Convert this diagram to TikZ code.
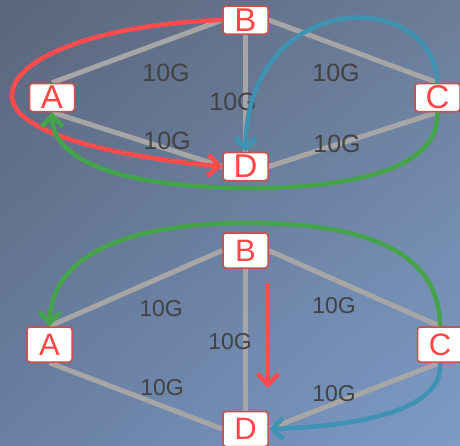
\documentclass[tikz,border=0pt]{standalone}
\usepackage{fontspec}
\setmainfont{Liberation Sans}
\usetikzlibrary{arrows.meta,shadings}
\definecolor{bgUL}{HTML}{5A667C}
\definecolor{bgUR}{HTML}{6C7D98}
\definecolor{bgLL}{HTML}{6A7FA2}
\definecolor{bgLR}{HTML}{7C9CC8}
\definecolor{linkgray}{HTML}{A6A6A6}
\definecolor{nodered}{HTML}{FF4545}
\definecolor{borderred}{HTML}{C9514F}
\definecolor{labelgray}{HTML}{424242}
\definecolor{pathred}{HTML}{FF4B4B}
\definecolor{pathblue}{HTML}{3E93B3}
\definecolor{pathgreen}{HTML}{45A34A}
\tikzset{
  router/.style={rectangle, rounded corners=3pt, draw=borderred, line width=1.5pt,
    fill=white, text=nodered, inner sep=0pt, minimum width=45pt},
  toprouter/.style={router, minimum height=28pt, font=\fontsize{33}{33}\selectfont},
  botrouter/.style={router, minimum height=35pt, font=\fontsize{31}{31}\selectfont},
  link/.style={draw=linkgray, line width=5pt},
  toplabel/.style={text=labelgray, font=\fontsize{25}{25}\selectfont, inner sep=0pt},
  botlabel/.style={text=labelgray, font=\fontsize{23}{23}\selectfont, inner sep=0pt},
  barb/.style={-{Straight Barb[length=11pt,width=21pt]}},
  redpath/.style={draw=pathred, line width=4.5pt, barb},
  bluepath/.style={draw=pathblue, line width=4.5pt, barb},
  greenpath/.style={draw=pathgreen, line width=4.5pt, barb}
}
\begin{document}
\begin{tikzpicture}[x=1pt,y=-1pt]
\useasboundingbox (0,0) rectangle (460,445);
\clip (0,0) rectangle (460,445);
\shade[upper left=bgUL, upper right=bgUR, lower left=bgLL, lower right=bgLR] (0,0) rectangle (460,445);

% ---------- top diagram ----------
\node[toprouter] (tA) at (52,97.5) {A};
\node[toprouter] (tB) at (245.5,20) {B};
\node[toprouter] (tC) at (437.5,97.5) {C};
\node[toprouter] (tD) at (245.5,166.5) {D};

\draw[link] (tA.north) -- (tB.west);
\draw[link] (tB.east) -- (tC.north);
\draw[link] (tB.south) -- (tD.north);
\draw[link] (tA.south) -- (tD.west);
\draw[link] (tC.south) -- (tD.east);

\node[toplabel] (tl1) at (166,73) {10G};
\node[toplabel] (tl2) at (336,73) {10G};
\node[toplabel] (tl3) at (233,102) {10G};
\node[toplabel] (tl4) at (167,141) {10G};
\node[toplabel] (tl5) at (337,144) {10G};

\draw[redpath] (tB.west) .. controls (100,24) and (10,58) .. (12,97)
  .. controls (15,140) and (150,160) .. (tD.west);
\draw[bluepath] (tC.north) .. controls (432,-15) and (247,-10) .. (tD.north);
\draw[greenpath] (tC.south) .. controls (440,170) and (350,188) .. (250,188)
  .. controls (150,188) and (53,170) .. (tA.south);

\node[toprouter] at (tA) {A};
\node[toprouter] at (tB) {B};
\node[toprouter] at (tC) {C};
\node[toprouter] at (tD) {D};

% ---------- bottom diagram ----------
\node[botrouter] (bA) at (49.5,344.5) {A};
\node[botrouter] (bB) at (245.5,250.5) {B};
\node[botrouter] (bC) at (440,344.5) {C};
\node[botrouter] (bD) at (245.5,429) {D};

\draw[link] (bA.north) -- (bB.west);
\draw[link] (bB.east) -- (bC.north);
\draw[link] (bB.south) -- (bD.north);
\draw[link] (bA.south) -- (bD.west);
\draw[link] (bC.south) -- (bD.east);

\node[botlabel] (bl1) at (161,309) {10G};
\node[botlabel] (bl2) at (334,306) {10G};
\node[botlabel] (bl3) at (230,342) {10G};
\node[botlabel] (bl4) at (162,388) {10G};
\node[botlabel] (bl5) at (334,394) {10G};

\coordinate (rs) at (268,283);
\coordinate (re) at (268,388);
\draw[redpath] (rs) -- (re);
\draw[greenpath] (bC.north) .. controls (440,240) and (340,223) .. (247,223)
  .. controls (150,223) and (52,245) .. (bA.north);
\draw[bluepath] (bC.south) .. controls (445,415) and (340,427) .. (bD.east);

\node[botrouter] at (bA) {A};
\node[botrouter] at (bB) {B};
\node[botrouter] at (bC) {C};
\node[botrouter] at (bD) {D};
\end{tikzpicture}
\end{document}
